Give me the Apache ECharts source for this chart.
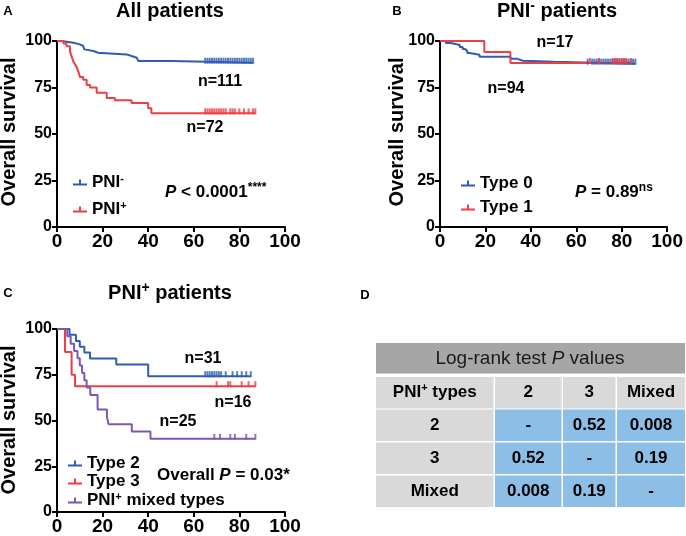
<!DOCTYPE html>
<html><head><meta charset="utf-8">
<script src="https://cdn.jsdelivr.net/npm/echarts@6/dist/echarts.min.js"></script>
<style>html,body{margin:0;padding:0;background:#fff}#c{width:686px;height:536px}</style>
</head><body><div id="c"></div>
<script>
const FONT = '"Liberation Sans", Arial, sans-serif';
const BLUE = '#2f5db4', RED = '#f03c46', PURPLE = '#7e56b4';

// ---- Panel A: all patients ----
const aNegT = [0, 2, 7.2, 10, 11.5, 12, 12.3, 16, 18, 30.5, 32.7, 35, 35.7, 50.3];
const aNegS = [100, 99.1, 98.2, 97.3, 96.4, 95.5, 94.6, 93.7, 92.8, 91.9, 91.0, 90.1, 89.2, 88.3];
const aNegC = [65,66,67,68,69,70,71,72,73,74,75,76,77,78,79,80,81,82,83,84,85,86];
const aPosT = [0, 2.8, 4.2, 5.7, 6.4, 7.2, 7.9, 8.6, 9.4, 10.1, 11.5, 13, 14.5, 17.4, 21.8, 25.4, 32.7, 40, 41.4];
const aPosS = [100, 98.6, 97.2, 94.4, 91.7, 88.9, 87.5, 86.1, 83.3, 80.6, 79.2, 76.4, 75.0, 72.2, 69.4, 68.1, 66.7, 63.9, 61.1];
const aPosC = [65,66,67,68,69,70,71,72,73,74,76,77,78,80,82,84,86,87];

// ---- Panel B: PNI- patients ----
const bT0T = [0, 2.6, 4.8, 8.7, 10, 11, 12, 13, 17.4, 31, 34, 36.5, 50];
const bT0S = [100, 98.9, 97.9, 96.8, 95.7, 94.7, 93.6, 92.6, 91.5, 90.4, 89.4, 88.8, 87.8];
const bT0C = [65,67,68,69,70,71,72,73,74,75,76,77,78,79,80,81,82,83,84,85,86];
const bT1T = [0, 19.5, 31];
const bT1S = [100, 94.1, 88.2];
const bT1C = [66, 70, 76, 77, 78, 79, 80, 81, 82, 84];

// ---- Panel C: PNI+ patients ----
const cT2T = [0, 5.5, 8.3, 10, 12, 14.5, 26, 40];
const cT2S = [100, 96.8, 93.5, 90.3, 87.1, 83.9, 80.6, 74.2];
const cT2C = [65,66,67,68,69,70,71,72,74,77,79,81,83,85];
const cT3T = [0, 3.5, 6.4, 7.9];
const cT3S = [100, 87.5, 75, 68.75];
const cT3C = [70, 75, 76, 81, 84, 87];
const cMixT = [0, 4.5, 6, 7.5, 9, 10, 11, 12, 13, 14.6, 17.8, 21.9, 22.6, 32.8, 41];
const cMixS = [100, 96, 92, 88, 84, 80, 76, 72, 68, 64, 56, 52, 48, 44, 40];
const cMixC = [69, 71.5, 76, 78, 83, 87];

// ---- Panel D: log-rank table ----
const tableTitle = 'Log-rank test P values';
const colHeads = ['PNI+ types', '2', '3', 'Mixed'];
const rowHeads = ['2', '3', 'Mixed'];
const pValues = [['-', '0.52', '0.008'], ['0.52', '-', '0.19'], ['0.008', '0.19', '-']];

const xTicks = [0, 20, 40, 60, 80, 100];
const yTicks = [0, 25, 50, 75, 100];

function survAt(T, S, t) { let v = S[0]; for (let i = 0; i < T.length; i++) if (T[i] <= t) v = S[i]; return v; }
function km(name, T, S, C, color, idx) {
  const last = C[C.length - 1];
  const data = T.map((t, i) => [t, S[i]]);
  data.push([last, S[S.length - 1]]);
  return [
    { type: 'line', name, step: 'end', data, xAxisIndex: idx, yAxisIndex: idx, showSymbol: false, symbol: 'none',
      lineStyle: { color, width: 2 }, itemStyle: { color }, animation: false, silent: true, z: 3 },
    { type: 'scatter', name: name + ' censored', data: C.map(t => [t, survAt(T, S, t)]), xAxisIndex: idx, yAxisIndex: idx,
      symbol: 'rect', symbolSize: [2, 6], symbolOffset: [0, -2], itemStyle: { color }, animation: false, silent: true, z: 4 }
  ];
}

const chart = echarts.init(document.getElementById('c'), null, { renderer: 'canvas' });
const grids = [
  { left: 57, top: 41, width: 228, height: 186 },
  { left: 440, top: 41, width: 230, height: 186 },
  { left: 57, top: 329, width: 228, height: 185 }
];
const axisLine = { show: true, onZero: false, lineStyle: { color: '#000', width: 2 } };
const axisTick = { show: true, length: 5, lineStyle: { color: '#000', width: 2 } };
const xAxes = grids.map((g, i) => ({
  gridIndex: i, type: 'value', min: xTicks[0], max: xTicks[xTicks.length - 1], interval: xTicks[1] - xTicks[0],
  axisLine, axisTick, splitLine: { show: false },
  axisLabel: { color: '#000', fontWeight: 'bold', fontSize: 19, fontFamily: FONT, margin: 5 }
}));
const yAxes = grids.map((g, i) => ({
  gridIndex: i, type: 'value', min: yTicks[0], max: yTicks[yTicks.length - 1], interval: yTicks[1] - yTicks[0],
  axisLine, axisTick, splitLine: { show: false },
  axisLabel: { color: '#000', fontWeight: 'bold', fontSize: 16, fontFamily: FONT, margin: 5 }
}));

const series = [].concat(
  km('PNI-', aNegT, aNegS, aNegC, BLUE, 0),
  km('PNI+', aPosT, aPosS, aPosC, RED, 0),
  km('Type 0', bT0T, bT0S, bT0C, BLUE, 1),
  km('Type 1', bT1T, bT1S, bT1C, RED, 1),
  km('Type 2', cT2T, cT2S, cT2C, BLUE, 2),
  km('Type 3', cT3T, cT3S, cT3C, RED, 2),
  km('Mixed', cMixT, cMixS, cMixC, PURPLE, 2)
);

const legRich = {
  t: { fontSize: 17, fontWeight: 'bold', fontFamily: FONT, color: '#000', lineHeight: 19 },
  s: { fontSize: 11, fontWeight: 'bold', fontFamily: FONT, color: '#000', verticalAlign: 'top', lineHeight: 11 }
};
const legNames = { 'PNI-': '{t|PNI}{s|-}', 'PNI+': '{t|PNI}{s|+}', 'Mixed': '{t|PNI}{s|+}{t| mixed types}' };
const icon = 'path://M0,5H14V7H0Z M6,1H8V7H6Z';
function legend(data, left, top, gap) {
  return { data, left, top, orient: 'vertical', icon, itemWidth: 14, itemHeight: 7, itemGap: gap, selectedMode: false,
    formatter: n => legNames[n] || ('{t|' + n + '}'), textStyle: { rich: legRich, padding: [0, 0, 0, 0] } };
}

const txt = (x, y, text, size, extra) => ({ type: 'text', x, y, silent: true,
  style: Object.assign({ text, font: 'bold ' + size + 'px ' + FONT, fill: '#000', align: 'center', verticalAlign: 'middle' }, extra || {}) });
const richTxt = (x, y, text, rich, align) => ({ type: 'text', x, y, silent: true,
  style: { text, rich, fill: '#000', align: align || 'center', verticalAlign: 'middle' } });
const R = (size) => ({
  t: { fontSize: size, fontWeight: 'bold', fontFamily: FONT, lineHeight: size + 3 },
  i: { fontSize: size, fontWeight: 'bold', fontStyle: 'italic', fontFamily: FONT, lineHeight: size + 3 },
  s: { fontSize: Math.round(size * 0.72), fontWeight: 'bold', fontFamily: FONT, verticalAlign: 'top', lineHeight: Math.round(size * 0.72) }
});
const yTitle = (x, y) => ({ type: 'text', x, y, rotation: Math.PI / 2, silent: true,
  style: { text: 'Overall survival', font: 'bold 20px ' + FONT, fill: '#000', align: 'center', verticalAlign: 'middle' } });

const graphic = [
  txt(8, 11, 'A', 13), txt(397, 11, 'B', 13), txt(8, 293, 'C', 13), txt(365, 295, 'D', 13),
  txt(170, 11, 'All patients', 20),
  richTxt(557, 11, '{t|PNI}{s|-}{t| patients}', R(20)),
  richTxt(170, 293, '{t|PNI}{s|+}{t| patients}', R(20)),
  yTitle(9, 132), yTitle(397, 132), yTitle(9, 420),
  txt(220, 82, 'n=111', 16), txt(205, 128, 'n=72', 16),
  txt(555, 43, 'n=17', 16), txt(506, 89, 'n=94', 16),
  txt(203, 359, 'n=31', 16), txt(233, 403, 'n=16', 16), txt(178, 422, 'n=25', 16),
  richTxt(165, 192, '{i|P}{t| < 0.0001}{s|****}', R(17), 'left'),
  richTxt(575, 192, '{i|P}{t| = 0.89}{s|ns}', R(17), 'left'),
  richTxt(157, 475, '{t|Overall }{i|P}{t| = 0.03*}', R(17), 'left')
];

// table
const tX = [376, 495, 563, 617, 685];
const tY = [377, 409.5, 442.5, 475.5];
const rowH = 31.5;
graphic.push({ type: 'rect', shape: { x: 376, y: 343, width: 309, height: 30.5 }, style: { fill: '#a6a6a6' }, silent: true });
graphic.push({ type: 'text', x: 530, y: 358.5, silent: true, style: {
  text: '{n|Log-rank test }{ni|P}{n| values}', align: 'center', verticalAlign: 'middle',
  rich: { n: { fontSize: 19, fontFamily: FONT, fill: '#1a1a1a' }, ni: { fontSize: 19, fontFamily: FONT, fontStyle: 'italic', fill: '#1a1a1a' } } } });
const cellRich = { t: { fontSize: 17, fontWeight: 'bold', fontFamily: FONT, lineHeight: 20 }, s: { fontSize: 11, fontWeight: 'bold', fontFamily: FONT, verticalAlign: 'top', lineHeight: 11 } };
for (let r = 0; r < 4; r++) {
  for (let c = 0; c < 4; c++) {
    const x0 = tX[c], x1 = tX[c + 1] - (c < 3 ? 1.5 : 0);
    const fill = (r === 0 || c === 0) ? '#d9d9d9' : '#8dbee5';
    graphic.push({ type: 'rect', shape: { x: x0, y: tY[r], width: x1 - x0, height: rowH }, style: { fill }, silent: true });
    let label;
    if (r === 0) label = c === 0 ? '{t|PNI}{s|+}{t| types}' : '{t|' + colHeads[c] + '}';
    else if (c === 0) label = '{t|' + rowHeads[r - 1] + '}';
    else label = '{t|' + pValues[r - 1][c - 1] + '}';
    graphic.push({ type: 'text', x: (x0 + x1) / 2, y: tY[r] + rowH / 2, silent: true,
      style: { text: label, rich: cellRich, fill: '#000', align: 'center', verticalAlign: 'middle' } });
  }
}

chart.setOption({
  animation: false,
  backgroundColor: '#fff',
  grid: grids,
  xAxis: xAxes,
  yAxis: yAxes,
  legend: [
    legend(['PNI-', 'PNI+'], 68, 168, 9),
    legend(['Type 0', 'Type 1'], 456, 170, 7),
    legend(['Type 2', 'Type 3', 'Mixed'], 63, 450, 1)
  ],
  series,
  graphic
});
</script></body></html>
